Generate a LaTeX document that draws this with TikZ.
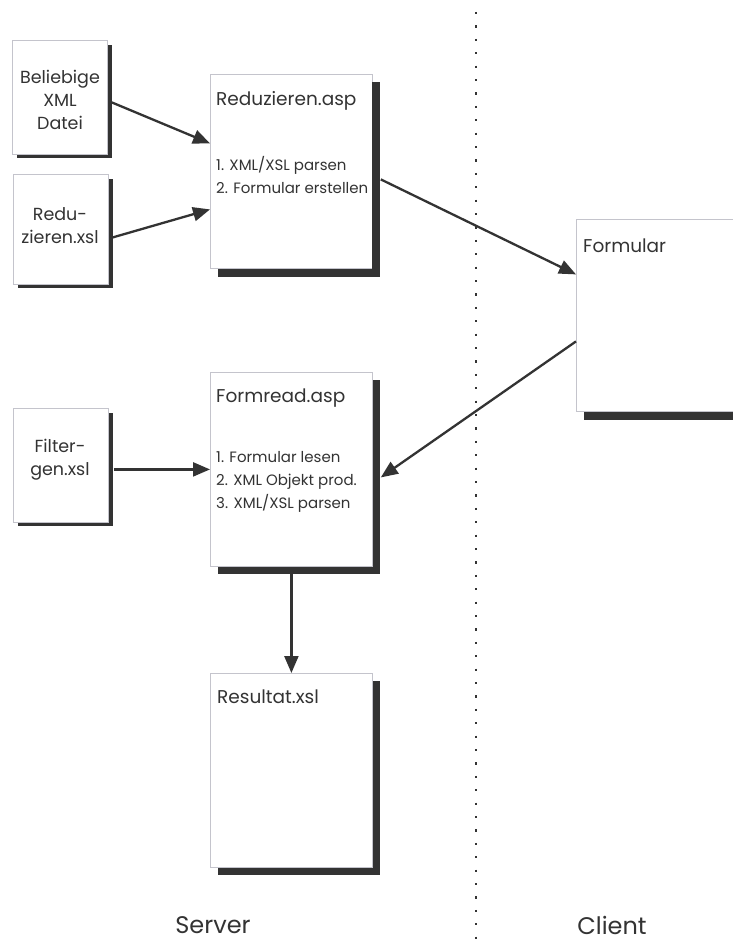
\documentclass[tikz,border=0pt]{standalone}
\usepackage{fontspec}
\setmainfont{Poppins}
\usetikzlibrary{arrows.meta,calc}
\definecolor{ink}{HTML}{333333}
\definecolor{edge}{HTML}{C4C4CC}
\begin{document}
\begin{tikzpicture}[x=1pt,y=-1pt,
  box/.style={draw=edge,line width=0.8pt,fill=white,anchor=north west,inner sep=0pt},
  shad/.style={fill=ink,draw=none},
  arr/.style={draw=ink,line width=2.3pt,-{Triangle[length=17pt,width=14pt]}},
  small/.style={font=\fontsize{17.5}{23}\selectfont,text=ink,align=center},
  title/.style={font=\fontsize{18.5}{20}\selectfont,text=ink,anchor=base west,inner sep=0pt},
  item/.style={font=\fontsize{15}{18}\selectfont,text=ink,anchor=base west,inner sep=0pt},
  side/.style={font=\fontsize{24}{28}\selectfont,text=ink}]
\useasboundingbox (0,0) rectangle (733,950);
\clip (0,0) rectangle (733,950);
\fill[white] (0,0) rectangle (733,950);
% divider
\draw[ink,line width=2.2pt,dash pattern=on 2.2pt off 11.2pt] (476,12) -- (476,950);
% shadows
\fill[shad] (17,45) rectangle (112,158);
\fill[shad] (18,179) rectangle (113,288);
\fill[shad] (18,413) rectangle (113,526);
\fill[shad] (218,82) rectangle (380,277);
\fill[shad] (218,380) rectangle (380,574);
\fill[shad] (218,681) rectangle (380,875);
\fill[shad] (584,227) rectangle (800,420);
% boxes
\node[box,minimum width=95pt,minimum height=114pt] (bel) at (12,40) {};
\node[box,minimum width=95pt,minimum height=110pt] (redu) at (13,174) {};
\node[box,minimum width=95pt,minimum height=114pt] (filt) at (13,408) {};
\node[box,minimum width=162pt,minimum height=194pt] (rasp) at (210,74) {};
\node[box,minimum width=162pt,minimum height=194pt] (fasp) at (210,372) {};
\node[box,minimum width=162pt,minimum height=194pt] (res) at (210,673) {};
\node[box,minimum width=200pt,minimum height=192pt] (form) at (576,219) {};
% texts
\node[small] (belt) at (60,100) {Beliebige\\XML\\Datei};
\node[small] (redut) at (60,226) {Redu-\\zieren.xsl};
\node[small] (filtt) at (60,460) {Filter-\\gen.xsl};
\node[title] (raspt) at (216,105) {Reduzieren.asp};
\node[item] (raspa) at (216,170) {1. XML/XSL parsen};
\node[item] (raspb) at (216,193) {2. Formular erstellen};
\node[title] (faspt) at (216,402) {Formread.asp};
\node[item] (faspa) at (216,462) {1. Formular lesen};
\node[item] (faspb) at (216,485) {2. XML Objekt prod.};
\node[item] (faspc) at (216,508) {3. XML/XSL parsen};
\node[title] (rest) at (217,703) {Resultat.xsl};
\node[title] (formt) at (583,252) {Formular};
\node[side] (server) at (213,925) {Server};
\node[side] (client) at (612,925) {Client};
% shadow over overflowing text of Reduzieren.asp
\fill[shad] (372,82) rectangle (380,277);
% arrows
\draw[arr] ([shift={(4,5)}]bel.east) -- ([shift={(0,-28)}]rasp.west);
\draw[arr] ([shift={(4,8)}]redu.east) -- ([shift={(0,38)}]rasp.west);
\draw[arr] ([shift={(8,8)}]rasp.east) -- ([shift={(0,-41)}]form.west);
\draw[arr] ([shift={(0,26)}]form.west) -- ([shift={(8,8)}]fasp.east);
\draw[arr] ([shift={(5,4)}]filt.east) -- (fasp.west);
\draw[arr] ([shift={(0,7)}]fasp.south) -- (res.north);
\end{tikzpicture}
\end{document}
